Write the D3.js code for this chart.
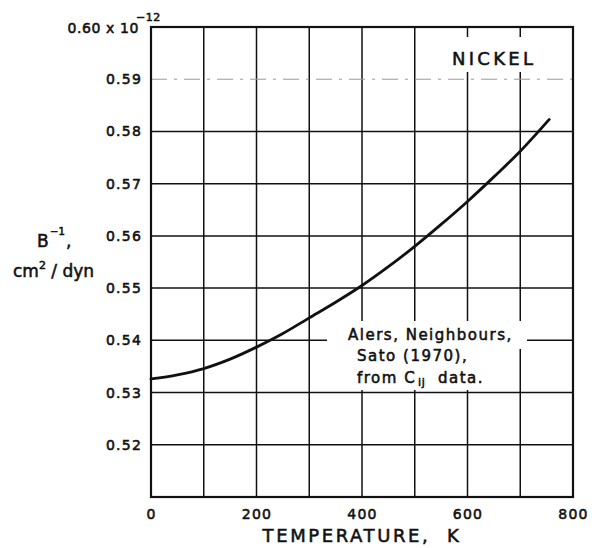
<!DOCTYPE html>
<html>
<head>
<meta charset="utf-8">
<script src="https://cdn.jsdelivr.net/npm/d3@7"></script>
<style>
  html, body { margin: 0; padding: 0; background: #fff; }
  svg { display: block; }
  text { font-family: "DejaVu Sans", sans-serif; fill: #111; stroke: #111; stroke-width: 0.55px; }
</style>
</head>
<body>
<svg id="chart" width="594" height="548"></svg>
<script>
// Nickel: inverse bulk modulus (compressibility) vs temperature
const temperatureK = [0, 50, 100, 150, 200, 250, 300, 350, 400, 450, 500, 550, 600, 650, 700, 755];
const inverseBulkModulus = [0.5326, 0.5334, 0.5346, 0.5364, 0.5387, 0.5413, 0.5443, 0.5473,
                            0.5505, 0.5541, 0.5580, 0.5622, 0.5666, 0.5713, 0.5762, 0.5823];
const xTickValues = [0, 200, 400, 600, 800];
const yTickValues = [0.52, 0.53, 0.54, 0.55, 0.56, 0.57, 0.58, 0.59];
const xGridValues = [100, 200, 300, 400, 500, 600, 700];
const dashedGridValue = 0.59;

const svg = d3.select("#chart");
const plot = { left: 151, right: 573, top: 27, bottom: 497 };

const x = d3.scaleLinear().domain([0, 800]).range([plot.left, plot.right]);
const y = d3.scaleLinear().domain([0.51, 0.60]).range([plot.bottom, plot.top]);

// grid
const grid = svg.append("g");
grid.selectAll("line.v").data(xGridValues).join("line")
  .attr("x1", d => x(d)).attr("x2", d => x(d))
  .attr("y1", plot.top).attr("y2", plot.bottom)
  .attr("stroke", "#111").attr("stroke-width", 1.5);
grid.selectAll("line.h").data(yTickValues).join("line")
  .attr("x1", plot.left).attr("x2", plot.right)
  .attr("y1", d => y(d)).attr("y2", d => y(d))
  .attr("stroke", d => d === dashedGridValue ? "#999" : "#111")
  .attr("stroke-width", d => d === dashedGridValue ? 1 : 1.5)
  .attr("stroke-dasharray", d => d === dashedGridValue ? "16 7 3 7" : null);

// white patches behind the in-plot labels
svg.append("rect").attr("x", x(560)).attr("y", 37).attr("width", x(740) - x(560)).attr("height", 35).attr("fill", "#fff");
svg.append("rect").attr("x", 327).attr("y", 321).attr("width", 200).attr("height", 28).attr("fill", "#fff");
svg.append("rect").attr("x", 340).attr("y", 349).attr("width", 170).attr("height", 41).attr("fill", "#fff");

// frame
svg.append("rect")
  .attr("x", plot.left).attr("y", plot.top)
  .attr("width", plot.right - plot.left).attr("height", plot.bottom - plot.top)
  .attr("fill", "none").attr("stroke", "#111").attr("stroke-width", 2.2);

// curve
const line = d3.line().x((d, i) => x(temperatureK[i])).y(d => y(d)).curve(d3.curveCatmullRom.alpha(0.5));
svg.append("path").datum(inverseBulkModulus)
  .attr("d", line).attr("fill", "none").attr("stroke", "#111").attr("stroke-width", 2.8)
  .attr("stroke-linecap", "round");

// y tick labels
const yAxis = d3.axisLeft(y).tickValues(yTickValues).tickSize(0).tickPadding(9).tickFormat(d3.format(".2f"));
const gy = svg.append("g").attr("transform", `translate(${plot.left},0)`).call(yAxis);
gy.select(".domain").remove();
gy.selectAll("text").style("font-size", "14px").style("letter-spacing", "1.2px")
  .style("font-family", "DejaVu Sans, sans-serif").attr("fill", "#111");

// top label with exponent
svg.append("text").attr("x", 139).attr("y", 33).attr("text-anchor", "end")
  .style("font-size", "14px").style("letter-spacing", "0.6px").text("0.60 x 10");
svg.append("text").attr("x", 136).attr("y", 21).style("font-size", "11px").style("letter-spacing", "0.5px").text("−12");

// x tick labels
const xAxis = d3.axisBottom(x).tickValues(xTickValues).tickSize(0).tickPadding(12).tickFormat(d3.format("d"));
const gx = svg.append("g").attr("transform", `translate(0,${plot.bottom})`).call(xAxis);
gx.select(".domain").remove();
gx.selectAll("text").style("font-size", "14px").style("letter-spacing", "1.2px")
  .style("font-family", "DejaVu Sans, sans-serif").attr("fill", "#111");

// axis titles
svg.append("text").attr("x", 362).attr("y", 542).attr("text-anchor", "middle")
  .style("font-size", "18px").style("letter-spacing", "2.6px").attr("xml:space", "preserve")
  .text("TEMPERATURE,  K");

svg.append("text").attr("x", 37).attr("y", 247).style("font-size", "17px").text("B");
svg.append("text").attr("x", 50).attr("y", 235).style("font-size", "10px").text("−1");
svg.append("text").attr("x", 66).attr("y", 247).style("font-size", "17px").text(",");

const yt2 = svg.append("text").attr("x", 13).attr("y", 277).style("font-size", "17px").attr("xml:space", "preserve");
yt2.append("tspan").text("cm");
yt2.append("tspan").attr("dy", -8).style("font-size", "11px").text("2");
yt2.append("tspan").attr("dy", 8).text(" / dyn");

// panel label
svg.append("text").attr("x", 452).attr("y", 65)
  .style("font-size", "18px").style("letter-spacing", "3.3px").text("NICKEL");

// source note
const note = [
  { text: "Alers, Neighbours,", x: 348, y: 340 },
  { text: "Sato (1970),", x: 357, y: 361 },
  { text: "from C", x: 357, y: 383 }
];
svg.selectAll("text.note").data(note).join("text")
  .attr("x", d => d.x).attr("y", d => d.y)
  .style("font-size", "15px").style("letter-spacing", "1.5px").attr("xml:space", "preserve")
  .text(d => d.text);
svg.append("text").attr("x", 418).attr("y", 386).style("font-size", "11px").style("letter-spacing", "0.8px").text("ij");
svg.append("text").attr("x", 438).attr("y", 383).style("font-size", "15px").style("letter-spacing", "1.5px").text("data.");
</script>
</body>
</html>
